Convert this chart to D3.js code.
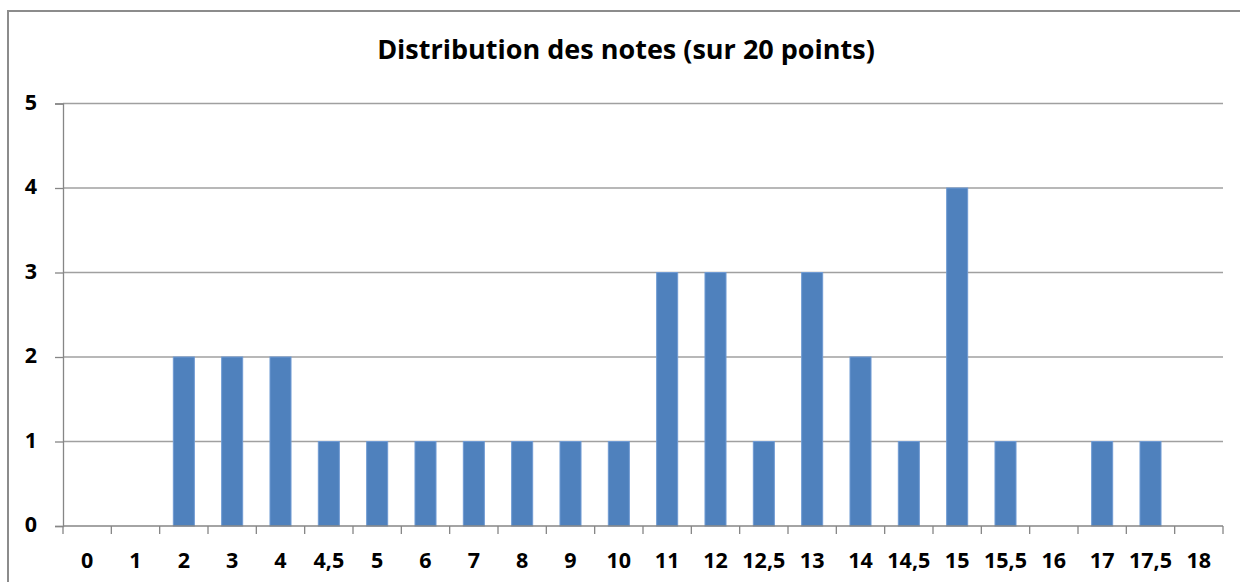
<!DOCTYPE html>
<html><head><meta charset="utf-8">
<script src="https://cdn.jsdelivr.net/npm/d3@7"></script>
<style>body{margin:0;background:#fff}svg{display:block}</style>
</head><body>
<svg id="c" width="1240" height="582"></svg>
<script>
const categories = ["0","1","2","3","4","4,5","5","6","7","8","9","10","11","12","12,5","13","14","14,5","15","15,5","16","17","17,5","18"];
const values = [0,0,2,2,2,1,1,1,1,1,1,1,3,3,1,3,2,1,4,1,0,1,1,0];
const yTicks = [0,1,2,3,4,5];
const title = "Distribution des notes (sur 20 points)";

(function () {
const svg = d3.select("#c");
const font = "'Open Sans', 'Noto Sans', sans-serif";
const mLeft = 63, mRight = 1223, mTop = 103.5, mBottom = 526;

svg.append("rect").attr("x", 8).attr("y", 11).attr("width", 1250).attr("height", 600)
  .attr("fill", "#fff").attr("stroke", "#8c8c8c").attr("stroke-width", 2);

const x = d3.scaleBand().domain(categories).range([mLeft, mRight]).paddingInner(0.565).paddingOuter(0.2825);
const xb = d3.scaleBand().domain(categories).range([mLeft, mRight]);
const y = d3.scaleLinear().domain([0, 5]).range([mBottom, mTop]);

svg.append("g").selectAll("line").data(yTicks.filter(d => d > 0)).join("line")
  .attr("x1", mLeft).attr("x2", mRight).attr("y1", d => y(d)).attr("y2", d => y(d))
  .attr("stroke", "#a0a0a0").attr("stroke-width", 1.3);

svg.append("g").selectAll("rect").data(values).join("rect")
  .attr("x", (d, i) => x(categories[i]))
  .attr("width", x.bandwidth())
  .attr("y", d => y(d))
  .attr("height", d => y(0) - y(d))
  .attr("fill", "#4F81BD").attr("stroke", "#6f9ad3").attr("stroke-width", 1);

const yAxis = d3.axisLeft(y).tickValues(yTicks).tickSize(8).tickPadding(18).tickFormat(d3.format("d"));
const gy = svg.append("g").attr("transform", `translate(${mLeft},0)`).call(yAxis);
gy.select(".domain").attr("stroke", "#868686").attr("stroke-width", 1.3);
gy.selectAll(".tick line").attr("stroke", "#868686").attr("stroke-width", 1.3);
gy.selectAll(".tick text").attr("font-family", font).attr("font-weight", "bold").attr("font-size", 21.5)
  .attr("dy", "0.27em").attr("fill", "#000");

const gx = svg.append("g").attr("transform", `translate(0,${mBottom})`);
gx.append("line").attr("x1", mLeft).attr("x2", mRight).attr("stroke", "#868686").attr("stroke-width", 1.3);
const bounds = categories.map(c => xb(c)).concat([mRight]);
gx.selectAll("line.tk").data(bounds).join("line").attr("class", "tk")
  .attr("x1", d => d).attr("x2", d => d).attr("y1", 0).attr("y2", 8)
  .attr("stroke", "#868686").attr("stroke-width", 1.3);
gx.selectAll("text").data(categories).join("text")
  .attr("x", d => xb(d) + xb.bandwidth() / 2).attr("y", 42)
  .attr("text-anchor", "middle").attr("font-family", font).attr("font-weight", "bold")
  .attr("font-size", 21.5).attr("fill", "#000").text(d => d);

svg.append("text").attr("x", 626).attr("y", 59).attr("text-anchor", "middle")
  .attr("font-family", font).attr("font-weight", "bold").attr("font-size", 27).attr("fill", "#000")
  .text(title);
})();
</script>
</body></html>
